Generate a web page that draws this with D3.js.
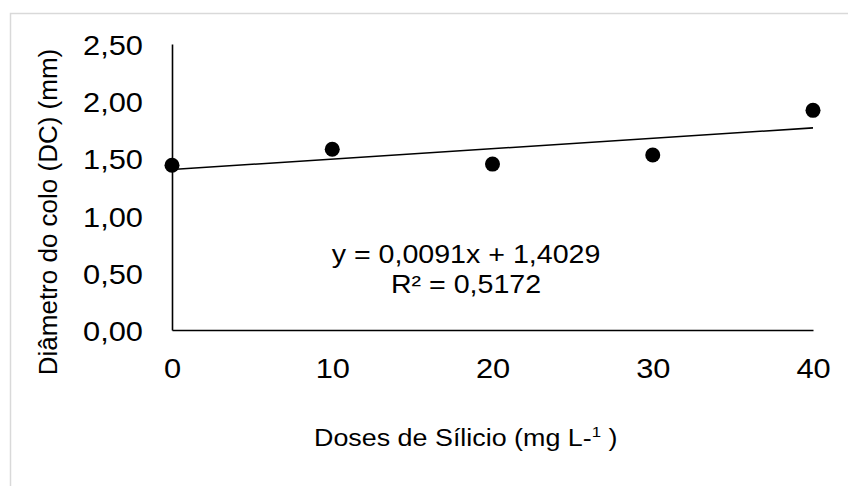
<!DOCTYPE html>
<html>
<head>
<meta charset="utf-8">
<script src="https://cdn.jsdelivr.net/npm/d3@7"></script>
<style>
  html, body { margin: 0; padding: 0; background: #fff; }
  svg { display: block; font-family: "Liberation Sans", Arial, sans-serif; }
</style>
</head>
<body>
<svg id="chart" width="848" height="486"></svg>
<script>
// ---- data ----
const doses = [0, 10, 20, 30, 40];
const diametro = [1.44, 1.58, 1.45, 1.53, 1.92];
const xTicks = [0, 10, 20, 30, 40];
const yTicks = [0, 0.5, 1.0, 1.5, 2.0, 2.5];
const yTickLabels = ["0,00", "0,50", "1,00", "1,50", "2,00", "2,50"];
const trendSlope = 0.0091;
const trendIntercept = 1.4029;
const equationText = "y = 0,0091x + 1,4029";
const r2Text = "R² = 0,5172";
const xTitle = "Doses de Sílicio (mg L-";
const yTitle = "Diâmetro do colo (DC) (mm)";

// ---- layout ----
const svg = d3.select("#chart");
const SX = 1.1; // horizontal stretch of the reference's text

svg.append("rect")
  .attr("x", 10.5).attr("y", 13.5)
  .attr("width", 900).attr("height", 900)
  .attr("fill", "#fff").attr("stroke", "#d9d9d9").attr("stroke-width", 1.5);

const x = d3.scaleLinear().domain([0, 40]).range([172, 813]);
const y = d3.scaleLinear().domain([0, 2.5]).range([330, 44]);

// axes
const yAxis = svg.append("g")
  .attr("transform", `translate(${x(0)},0)`)
  .call(d3.axisLeft(y).tickValues(yTicks).tickSize(0).tickSizeOuter(0)
        .tickFormat((d, i) => yTickLabels[i]));
yAxis.select(".domain").attr("stroke", "#000").attr("stroke-width", 1.6);
yAxis.selectAll(".tick text")
  .attr("x", null).attr("dy", null)
  .attr("font-size", 28).attr("fill", "#000")
  .attr("font-family", "Liberation Sans, Arial, sans-serif")
  .attr("text-anchor", "end")
  .attr("transform", `translate(-29,10.5) scale(${SX},1)`);

const xAxis = svg.append("g")
  .attr("transform", `translate(0,${y(0)})`)
  .call(d3.axisBottom(x).tickValues(xTicks).tickSize(0).tickSizeOuter(0)
        .tickFormat(d3.format("d")));
xAxis.select(".domain").attr("stroke", "#000").attr("stroke-width", 1.6);
xAxis.selectAll(".tick text")
  .attr("y", null).attr("dy", null)
  .attr("font-size", 28).attr("fill", "#000")
  .attr("font-family", "Liberation Sans, Arial, sans-serif")
  .attr("text-anchor", "middle")
  .attr("transform", `translate(0,48) scale(${SX},1)`);

// trend line
const trend = d3.line().x(d => x(d)).y(d => y(trendIntercept + trendSlope * d));
svg.append("path")
  .datum([d3.min(doses), d3.max(doses)])
  .attr("d", trend)
  .attr("fill", "none").attr("stroke", "#000").attr("stroke-width", 1.6);

// points
svg.append("g").selectAll("circle")
  .data(doses.map((d, i) => [d, diametro[i]]))
  .join("circle")
  .attr("cx", d => x(d[0])).attr("cy", d => y(d[1]))
  .attr("r", 7.5).attr("fill", "#000");

// equation
svg.append("text")
  .attr("transform", `translate(466,263) scale(${SX},1)`)
  .attr("text-anchor", "middle").attr("font-size", 26).attr("fill", "#000")
  .text(equationText);
svg.append("text")
  .attr("transform", `translate(466,293) scale(${SX},1)`)
  .attr("text-anchor", "middle").attr("font-size", 26).attr("fill", "#000")
  .text(r2Text);

// x title
const xt = svg.append("text")
  .attr("transform", `translate(314,446) scale(1.12,1)`)
  .attr("text-anchor", "start").attr("font-size", 24).attr("fill", "#000");
xt.append("tspan").text(xTitle);
xt.append("tspan").attr("font-size", 15).attr("dy", -9).text("1");
xt.append("tspan").attr("dy", 9).text(" )");

// y title
svg.append("text")
  .attr("transform", `translate(57,212) rotate(-90)`)
  .attr("text-anchor", "middle").attr("font-size", 26).attr("fill", "#000")
  .text(yTitle);
</script>
</body>
</html>
